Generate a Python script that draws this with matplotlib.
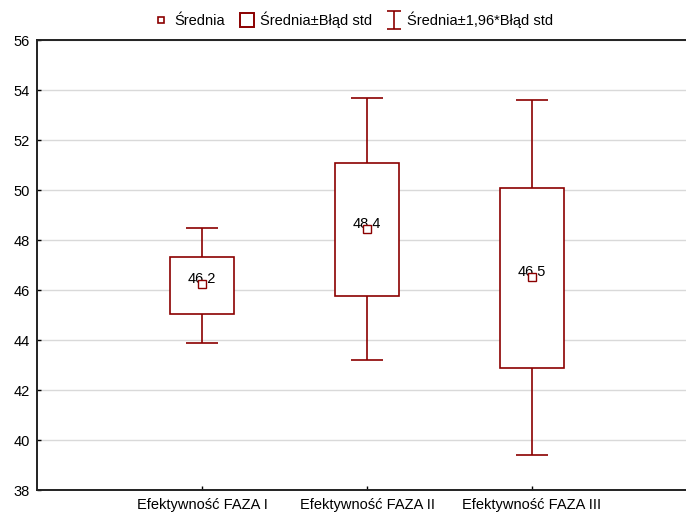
import matplotlib
matplotlib.use("Agg")
import matplotlib.pyplot as plt
from matplotlib.patches import Rectangle
from matplotlib.lines import Line2D
from matplotlib.path import Path

plt.rcParams['font.family'] = ['Liberation Sans', 'DejaVu Sans']

# mean, mean +/- SE, mean +/- 1.96*SE
categories = ["Efektywność FAZA I", "Efektywność FAZA II", "Efektywność FAZA III"]
means = [46.24, 48.44, 46.52]
se_low = [45.04, 45.76, 42.88]
se_high = [47.32, 51.08, 50.08]
ci_low = [43.88, 43.20, 39.40]
ci_high = [48.48, 53.68, 53.60]
mean_labels = ["46,2", "48,4", "46,5"]

red = "#8b0000"

fig = plt.figure(figsize=(6.86, 5.13), dpi=100)
ax = fig.add_axes([37 / 686, 23 / 513, 660 / 686, 450 / 513])

box_w = 0.39
cap_w = 0.19
for i, cat in enumerate(categories):
    x = i + 1
    ax.vlines(x, ci_low[i], se_low[i], color=red, lw=1.2, zorder=3)
    ax.vlines(x, se_high[i], ci_high[i], color=red, lw=1.2, zorder=3)
    ax.hlines([ci_low[i], ci_high[i]], x - cap_w / 2, x + cap_w / 2,
              color=red, lw=1.2, zorder=3)
    ax.add_patch(Rectangle((x - box_w / 2, se_low[i]), box_w,
                           se_high[i] - se_low[i], facecolor="white",
                           edgecolor=red, lw=1.2, zorder=3))
    ax.plot(x, means[i], marker="s", ms=6, mfc="white", mec=red,
            mew=1.0, zorder=5)
    ax.text(x, means[i] + 0.05, mean_labels[i], ha="center", va="baseline",
            fontsize=10.5, color="black", zorder=4)

ax.set_xlim(0, 4)
ax.set_ylim(38, 56)
ax.set_yticks(range(38, 57, 2))
ax.set_xticks([1, 2, 3])
ax.set_xticklabels(categories)
ax.yaxis.grid(True, color="#d9d9d9", lw=1)
ax.set_axisbelow(True)
ax.tick_params(direction="in", length=3, width=1, labelsize=10.5, pad=5)
ax.tick_params(axis="x", pad=6)
for side in ["left", "bottom", "top"]:
    ax.spines[side].set_linewidth(1.4)
    ax.spines[side].set_color("#222222")
ax.spines["right"].set_visible(False)

# legend handle for the error bar: an I-shaped marker
ibar = Path([(-0.8, -1), (0.8, -1), (0, -1), (0, 1), (-0.8, 1), (0.8, 1)],
            [Path.MOVETO, Path.LINETO, Path.MOVETO, Path.LINETO,
             Path.MOVETO, Path.LINETO])
handles = [
    Line2D([], [], ls="none", marker="s", ms=5, mfc="white", mec=red, mew=1.2),
    Line2D([], [], ls="none", marker="s", ms=10, mfc="white", mec=red, mew=1.4),
    Line2D([], [], ls="none", marker=ibar, ms=13, mfc="none", mec=red, mew=1.2),
]
labels = ["Średnia", "Średnia±Błąd std", "Średnia±1,96*Błąd std"]
fig.legend(handles, labels, loc="center", bbox_to_anchor=(0.515, 0.961),
           ncol=3, frameon=False, fontsize=10.5, handlelength=1.0,
           handletextpad=0.4, columnspacing=1.0)

fig.savefig("out.png", dpi=100)
